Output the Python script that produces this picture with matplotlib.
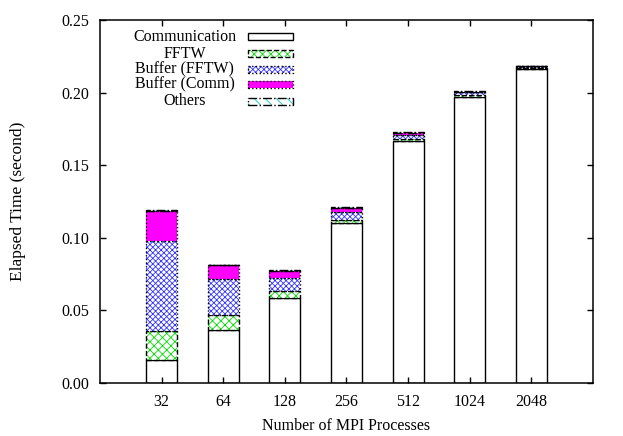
import matplotlib.pyplot as plt
from matplotlib.patches import Rectangle
import numpy as np

plt.rcParams['font.family'] = ['Liberation Serif', 'DejaVu Serif']
plt.rcParams['font.size'] = 11.5
plt.rcParams['hatch.linewidth'] = 0.6

# Data (seconds)
procs = ['32', '64', '128', '256', '512', '1024', '2048']
communication = [0.0155, 0.0365, 0.0583, 0.1100, 0.1669, 0.1972, 0.2163]
fftw = [0.0205, 0.0100, 0.0053, 0.0023, 0.0014, 0.0011, 0.0004]
buffer_fftw = [0.0620, 0.0248, 0.0085, 0.0055, 0.0023, 0.0019, 0.0012]
buffer_comm = [0.0205, 0.0098, 0.0051, 0.0027, 0.0019, 0.0003, 0.0002]
others = [0.0005, 0.0005, 0.0004, 0.0004, 0.0004, 0.0003, 0.0003]

series = [
    ('Communication', communication, dict(face='white', hatch=None, hcolor='black', ls='-')),
    ('FFTW', fftw, dict(face='white', hatch='xxxx', hcolor='#00dd00', ls='--')),
    ('Buffer (FFTW)', buffer_fftw, dict(face='white', hatch='xxxxxx', hcolor='#3333ff', ls=':')),
    ('Buffer (Comm)', buffer_comm, dict(face='#ff00ff', hatch=None, hcolor='black', ls=':')),
    ('Others', others, dict(face='white', hatch='\\\\\\', hcolor='#00cccc', ls='-.')),
]

fig, ax = plt.subplots(figsize=(6.23, 4.36), dpi=100)
fig.subplots_adjust(left=0.1605, right=0.9518, top=0.954, bottom=0.1216)

x = np.arange(1, len(procs) + 1)
width = 0.5
bottom = np.zeros(len(procs))

for label, vals, st in series:
    vals = np.array(vals)
    # fill + hatch layer, then the outline in gnuplot line style
    ax.bar(x, vals, width, bottom=bottom, color=st['face'],
           edgecolor=st['hcolor'] if st['hatch'] else st['face'],
           hatch=st['hatch'], linewidth=0)
    ax.bar(x, vals, width, bottom=bottom, fill=False, edgecolor='black',
           linestyle=st['ls'], linewidth=1.0)
    bottom += vals

# gnuplot-like key: centred text, sample box on the right
key_y = [0.953, 0.907, 0.863, 0.822, 0.776]
for (label, vals, st), ky in zip(series, key_y):
    ax.text(0.172, ky, label, transform=ax.transAxes, ha='center', va='center')
    if st['hatch']:
        ax.add_patch(Rectangle((0.301, ky - 0.009), 0.09, 0.019, transform=ax.transAxes,
                               facecolor=st['face'], edgecolor=st['hcolor'],
                               hatch=st['hatch'], linewidth=0))
    else:
        ax.add_patch(Rectangle((0.301, ky - 0.009), 0.09, 0.019, transform=ax.transAxes,
                               facecolor=st['face'], linewidth=0))
    ax.add_patch(Rectangle((0.301, ky - 0.009), 0.09, 0.019, transform=ax.transAxes,
                           fill=False, edgecolor='black', linestyle=st['ls'], linewidth=1.0))

ax.set_xlim(0, 8)
ax.set_ylim(0, 0.25)
ax.set_xticks(x)
ax.set_xticklabels(procs)
ax.set_yticks(np.arange(0, 0.2501, 0.05))
ax.set_yticklabels(['%.2f' % v for v in np.arange(0, 0.2501, 0.05)])
ax.tick_params(direction='in', top=True, right=True, length=4.5, width=1.0, pad=8)
for sp in ax.spines.values():
    sp.set_linewidth(1.1)

ax.set_xlabel('Number of MPI Processes', labelpad=6)
ax.set_ylabel('Elapsed Time (second)', labelpad=25, fontsize=12.5)

fig.savefig('out.png', dpi=100)
